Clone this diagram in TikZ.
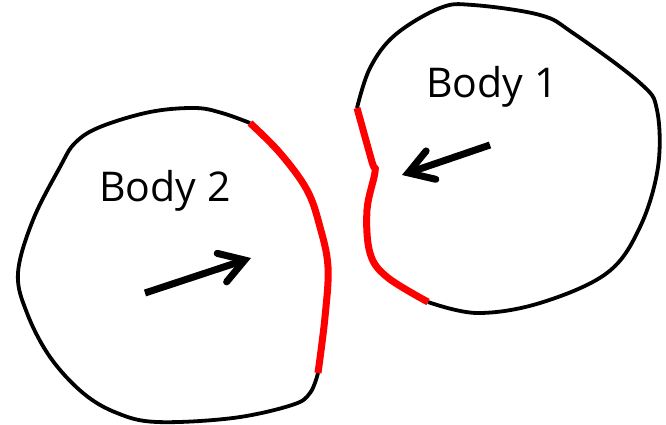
\documentclass[tikz,border=0pt]{standalone}
\usepackage{fontspec}
\setmainfont{Open Sans}
\usetikzlibrary{arrows.meta}
\begin{document}
\begin{tikzpicture}[x=1pt,y=-1pt,
  outline/.style={line width=3.8pt,black,line join=round},
  contact/.style={line width=7pt,red},
  force/.style={line width=7pt,-{Straight Barb[length=24pt,width=30pt,line cap=round]}},
  label/.style={font=\fontsize{41}{48}\selectfont,anchor=base}]
\useasboundingbox (0,0) rectangle (666,425);

\draw[outline] plot[smooth,tension=0.6] coordinates {(318,373) (310,393) (292,405) (233,418) (157,422) (117,413) (83,393) (50,357) (27,313) (18,273) (33,220) (60,167) (75,143) (100,127) (150,112) (195,108) (222,113) (250,123)};
\draw[contact] plot[smooth,tension=0.6] coordinates {(250,123) (280,153) (307,190) (320,227) (328,267) (325,317) (318,373)};

\draw[outline] plot[smooth,tension=0.6] coordinates {(428,302) (477,313) (540,303) (607,273) (640,227) (658,167) (657,110) (640,83) (573,33) (540,15) (473,5) (440,8) (395,35) (370,68) (357,108)};
\draw[contact] plot[smooth,tension=0.6] coordinates {(357,108) (372,162) (375,172) (367,210) (370,253) (387,277) (428,302)};

\node[label] (body2) at (165,201) {Body 2};
\node[label] (body1) at (492,98) {Body 1};

\coordinate (f2s) at (145,293);
\coordinate (f2e) at (251,258);
\coordinate (f1s) at (490,145);
\coordinate (f1e) at (402,175);
\draw[force] (f2s) -- (f2e);
\draw[force] (f1s) -- (f1e);
\end{tikzpicture}
\end{document}
